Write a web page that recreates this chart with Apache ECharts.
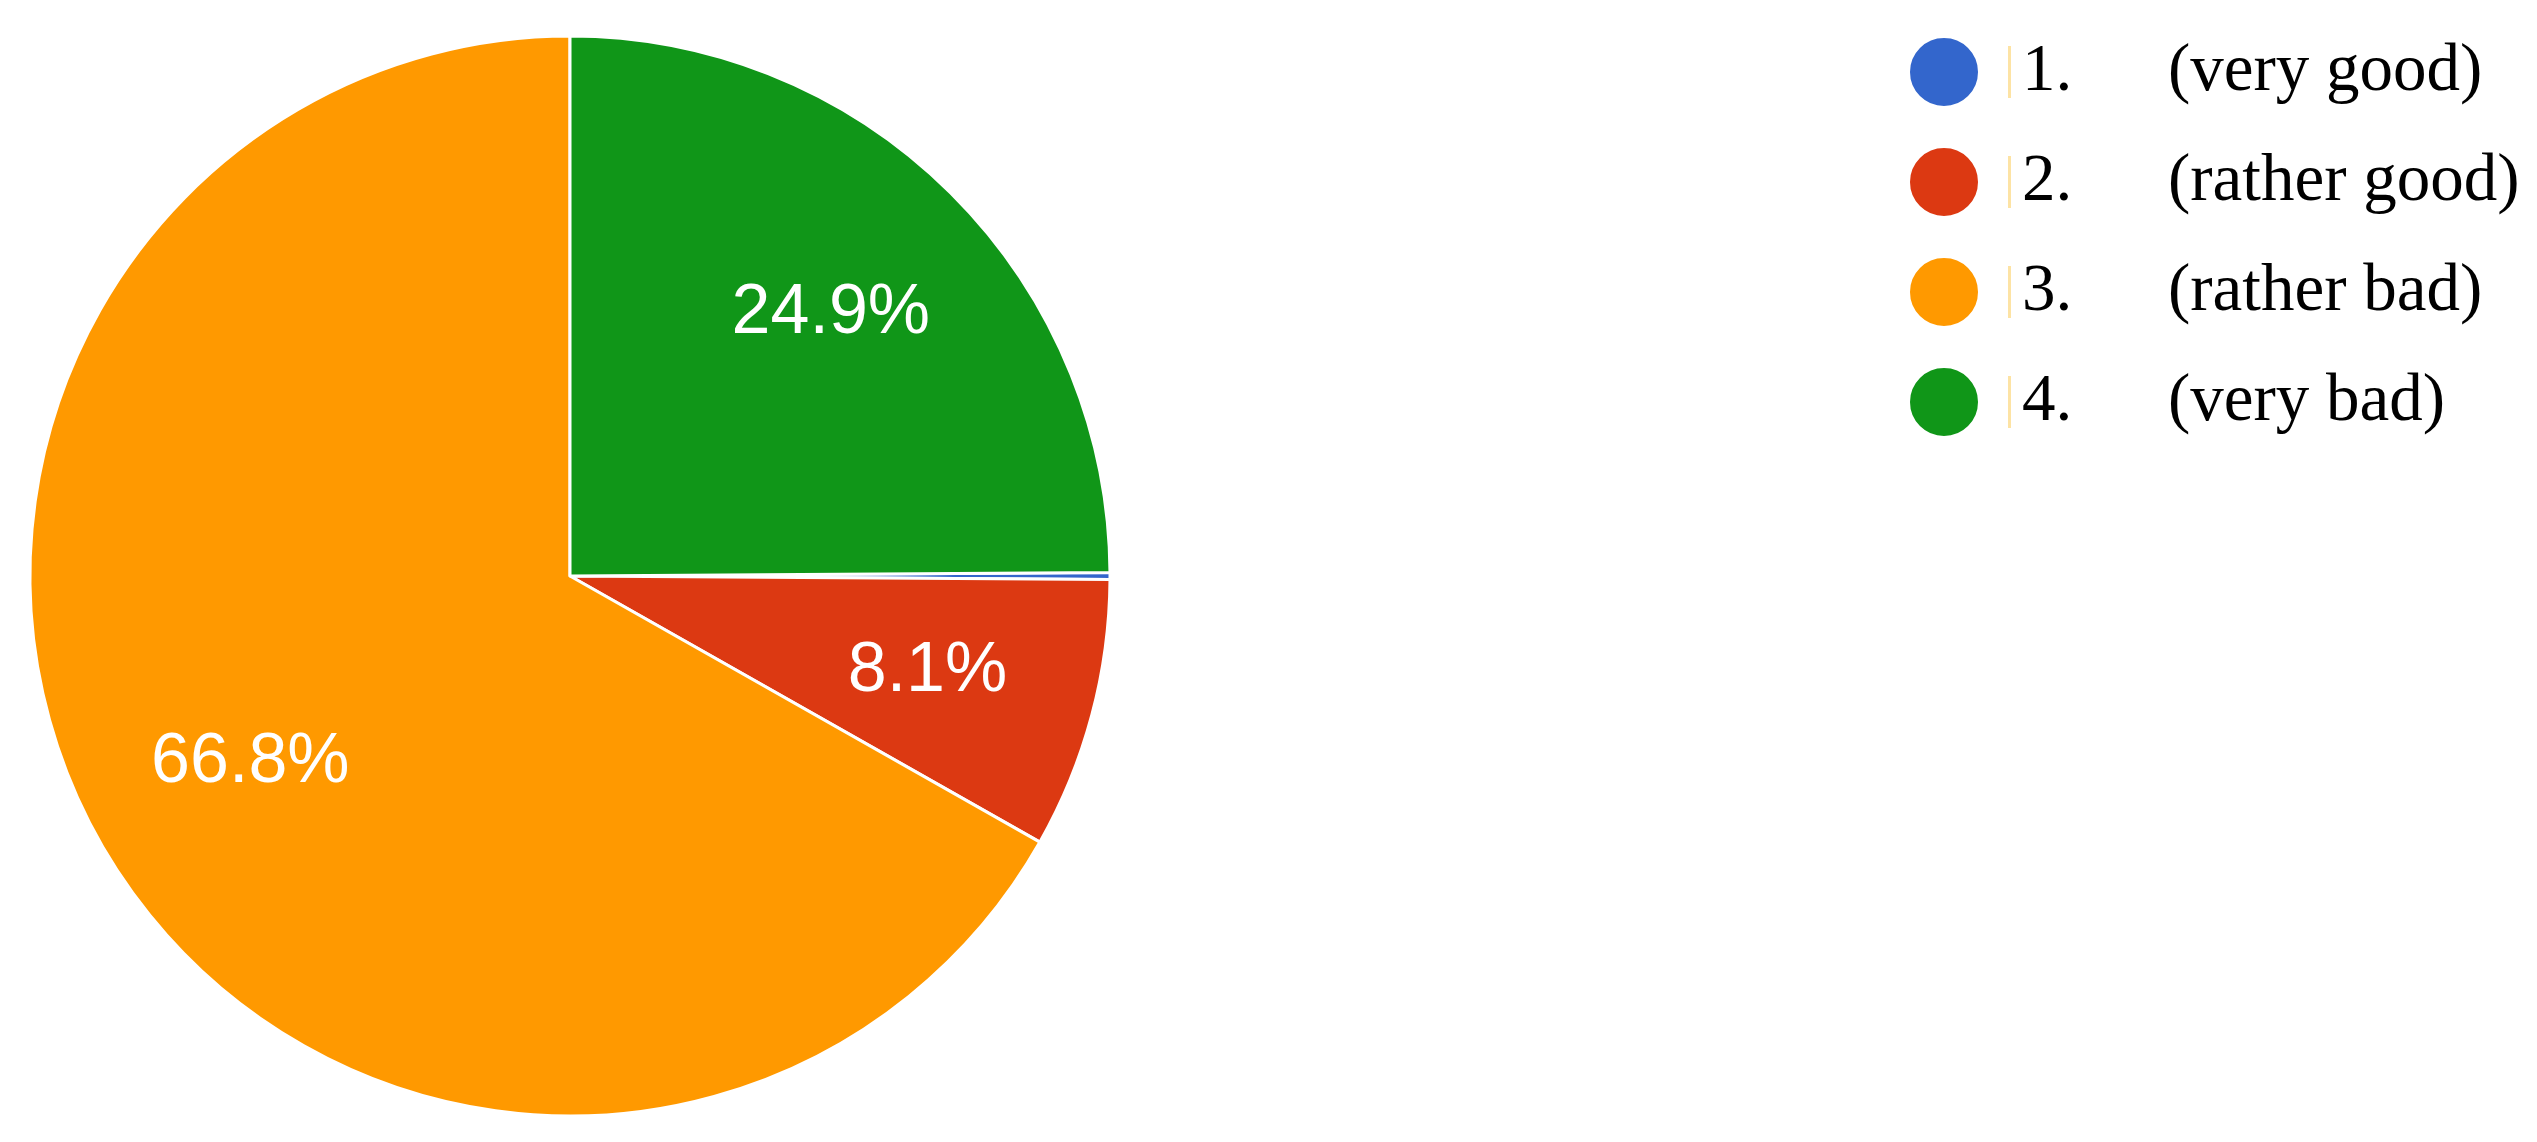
<!DOCTYPE html>
<html>
<head>
<meta charset="utf-8">
<script src="https://cdn.jsdelivr.net/npm/echarts@6/dist/echarts.min.js"></script>
<style>
html, body { margin: 0; padding: 0; background: #fff; }
#main { width: 2537px; height: 1142px; }
</style>
</head>
<body>
<div id="main"></div>
<script>
// answers, in legend order
var nums = ['1.', '2.', '3.', '4.'];
var descs = ['(very good)', '(rather good)', '(rather bad)', '(very bad)'];
var shares = [0.2, 8.1, 66.8, 24.9];
var colors = ['#3366cc', '#dc3912', '#ff9900', '#109618'];

var names = nums.map(function (n, i) { return n + ' ' + descs[i]; });
var pieData = names.map(function (n, i) {
    return { name: n, value: shares[i], itemStyle: { color: colors[i] } };
});

// last answer sits at 12 o'clock going clockwise
var startAngle = 90 - shares[shares.length - 1] * 3.6;

var chart = echarts.init(document.getElementById('main'));

var option = {
    animation: false,
    legend: {
        orient: 'vertical',
        left: 1903,
        top: 31,
        icon: 'circle',
        itemWidth: 70,
        itemHeight: 70,
        itemGap: 38,
        selectedMode: false,
        data: names,
        formatter: function (name) {
            var i = names.indexOf(name);
            return '{s1|}{bar|}{s2|}{num|' + nums[i] + '}{txt|' + descs[i] + '}';
        },
        textStyle: {
            fontFamily: 'Liberation Serif',
            fontSize: 67,
            color: '#000',
            rich: {
                s1: { width: 24, height: 52 },
                bar: { width: 3, height: 52, backgroundColor: '#fde3a4' },
                s2: { width: 11, height: 52 },
                num: { width: 146, fontFamily: 'Liberation Serif', fontSize: 67, color: '#000' },
                txt: { fontFamily: 'Liberation Serif', fontSize: 67, color: '#000' }
            }
        }
    },
    series: [
        {
            type: 'pie',
            center: [570, 576],
            radius: [0, 540],
            startAngle: startAngle,
            clockwise: true,
            silent: true,
            label: { show: false },
            labelLine: { show: false },
            itemStyle: { borderColor: '#fff', borderWidth: 3 },
            data: pieData
        },
        {
            // transparent ring only used to place labels at ~2/3 radius
            type: 'pie',
            center: [570, 576],
            radius: [194, 540],
            startAngle: startAngle,
            clockwise: true,
            silent: true,
            minShowLabelAngle: 5,
            itemStyle: { color: 'rgba(0,0,0,0)' },
            labelLine: { show: false },
            label: {
                show: true,
                position: 'inside',
                color: '#fff',
                fontFamily: 'Liberation Sans',
                fontSize: 70,
                formatter: function (p) { return p.value.toFixed(1) + '%'; }
            },
            data: names.map(function (n, i) { return { name: n, value: shares[i] }; })
        }
    ]
};

chart.setOption(option);
</script>
</body>
</html>
